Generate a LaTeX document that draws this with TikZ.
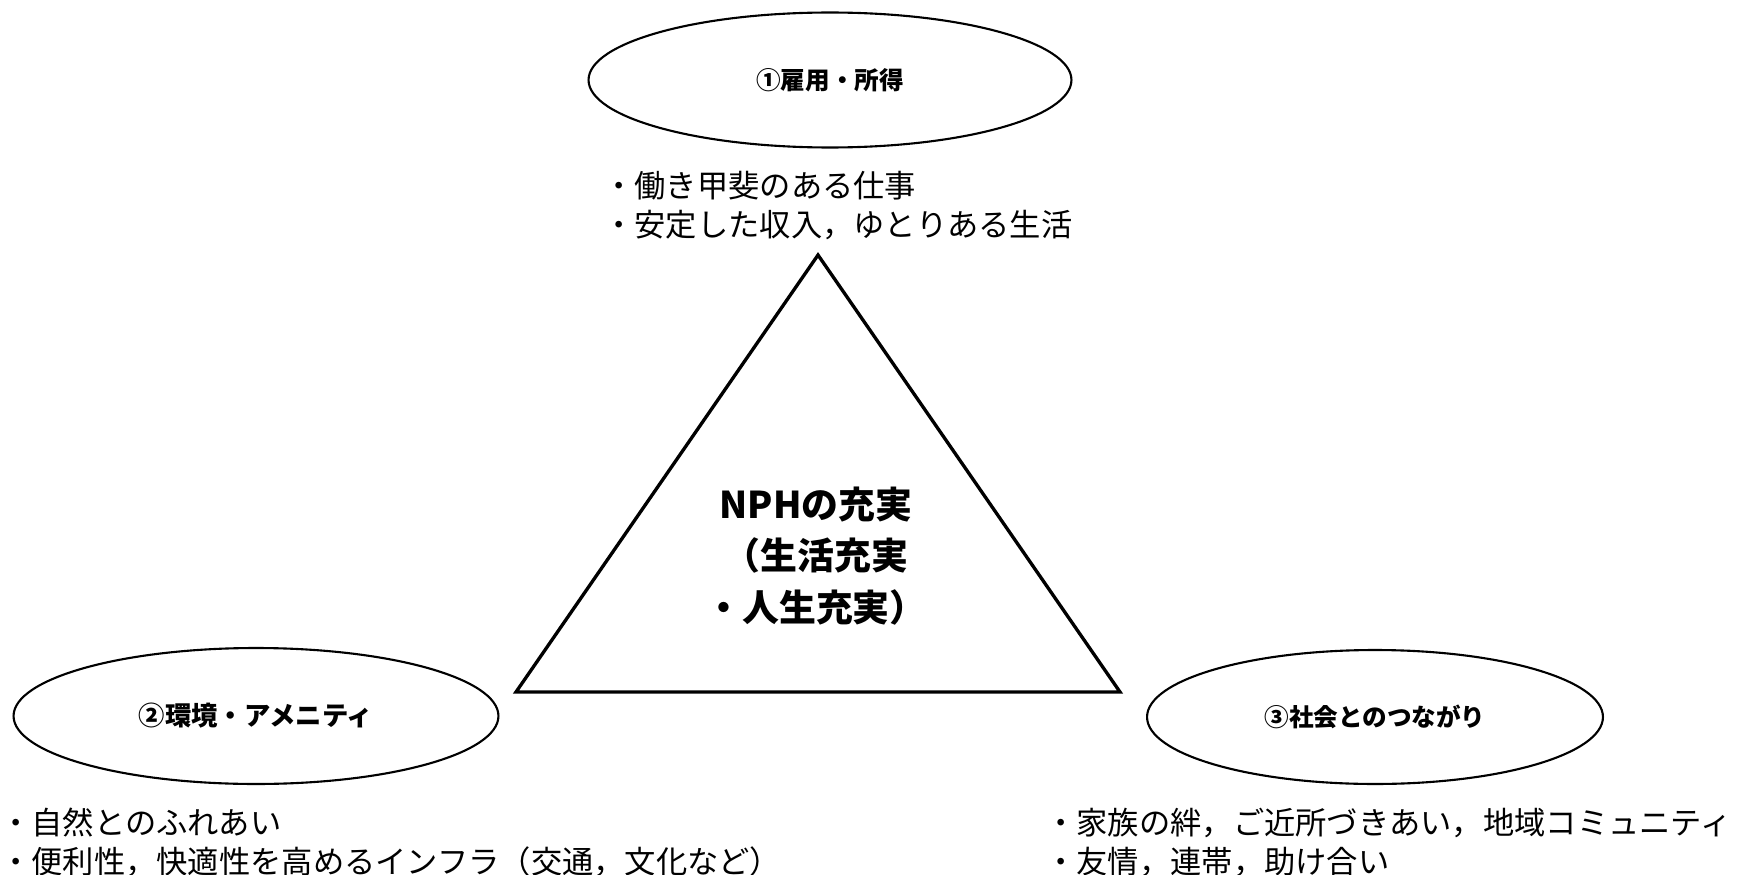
\documentclass[tikz,border=0pt]{standalone}
\usepackage{fontspec}
\setmainfont{Noto Sans CJK JP}
\usetikzlibrary{positioning, shapes.geometric}

\begin{document}
\begin{tikzpicture}[
  x=0.02cm, y=-0.02cm,
  goal/.style={draw, ellipse, line width=1.2pt, inner sep=0pt, minimum width=9.7cm, minimum height=2.72cm, font=\bfseries\fontsize{14pt}{16pt}\selectfont},
  items/.style={anchor=west, inner sep=0pt, align=left, font=\fontsize{17.8pt}{22.2pt}\selectfont},
  core/.style={align=center, inner sep=0pt, font=\bfseries\fontsize{21pt}{29.5pt}\selectfont}
]
  \useasboundingbox (0,0) rectangle (1748,875);

  % Triangle
  \coordinate (apex) at (818,255);
  \coordinate (left) at (516,692);
  \coordinate (right) at (1120,692);
  \draw[line width=1.9pt] (apex) -- (left) -- (right) -- cycle;
  \node[core] (nph) at (816,556) {NPHの充実\\（生活充実\\・人生充実）};

  % Ellipses
  \node[goal, minimum width=9.66cm, minimum height=2.7cm] (koyo) at (830,80) {①雇用・所得};
  \node[goal, font=\bfseries\fontsize{15pt}{17pt}\selectfont] (kankyo) at (256,716) {②環境・アメニティ};
  \node[goal, minimum width=9.12cm, minimum height=2.68cm] (shakai) at (1375,717) {③社会とのつながり};

  % Items
  \node[items] (koyoitems) at (603,206) {・働き甲斐のある仕事\\・安定した収入，ゆとりある生活};
  \node[items] (kankyoitems) at (0,842) {・自然とのふれあい\\・便利性，快適性を高めるインフラ（交通，文化など）};
  \node[items] (shakaiitems) at (1045,842) {・家族の絆，ご近所づきあい，地域コミュニティ\\・友情，連帯，助け合い};

\end{tikzpicture}
\end{document}
